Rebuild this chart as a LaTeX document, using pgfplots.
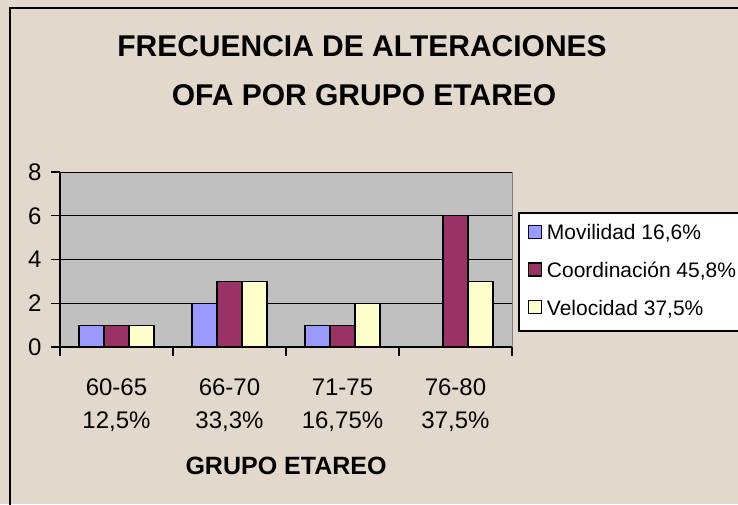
\documentclass[border=0pt]{standalone}
\usepackage{pgfplots}
\pgfplotsset{compat=1.18}
\usepackage{fontspec}
\setmainfont{Liberation Sans}
\definecolor{bgc}{HTML}{E2D8CC}
\definecolor{plotbg}{HTML}{C0C0C0}
\definecolor{cmov}{HTML}{9999FF}
\definecolor{ccoo}{HTML}{993366}
\definecolor{cvel}{HTML}{FFFFCC}
\begin{document}
\begin{tikzpicture}
\useasboundingbox (0pt,0pt) rectangle (738pt,-504pt);
\fill[bgc] (0pt,0pt) rectangle (738pt,-504pt);
\draw[line width=2pt] (10pt,-520pt) -- (10pt,-8pt) -- (760pt,-8pt);
\node[anchor=base, inner sep=0pt, font=\bfseries\fontsize{30}{36}\selectfont] at (362pt,-56pt) {FRECUENCIA DE ALTERACIONES};
\node[anchor=base, inner sep=0pt, font=\bfseries\fontsize{30}{36}\selectfont] at (364pt,-105pt) {OFA POR GRUPO ETAREO};
\begin{axis}[
  at={(60pt,-347pt)}, anchor=south west,
  scale only axis, width=452pt, height=175pt,
  xmin=-0.5, xmax=3.5, ymin=0, ymax=8,
  ybar, bar width=25pt,
  axis x line*=bottom, axis y line*=left,
  axis line style={black, line width=1.5pt},
  axis background/.style={fill=plotbg, draw=gray, line width=1pt},
  ytick={0,2,4,6,8},
  ymajorgrids, grid style={black, line width=1pt},
  major tick length=9pt, tick align=outside,
  tick style={black, line width=1.2pt},
  xtick={-0.5,0.5,1.5,2.5,3.5}, xticklabels={},
  extra x ticks={0,1,2,3},
  extra x tick labels={{60-65\\12,5\%},{66-70\\33,3\%},{71-75\\16,75\%},{76-80\\37,5\%}},
  extra x tick style={major tick length=0pt, tick style={draw=none}},
  xticklabel style={align=center, font=\fontsize{24}{33}\selectfont, yshift=-28pt},
  yticklabel style={font=\fontsize{24}{28}\selectfont, xshift=-6pt},
  /pgf/number format/assume math mode=true,
  xlabel={GRUPO ETAREO},
  xlabel style={at={(axis description cs:0.5,-0.7257)}, anchor=base, inner sep=0pt, font=\bfseries\fontsize{25}{29}\selectfont},
  legend style={at={(1.0133,0.7714)}, anchor=north west, draw=black, line width=1.5pt, fill=white,
    inner xsep=9pt, inner ysep=12pt, row sep=18.5pt,
    font=\fontsize{21}{25}\selectfont,
    nodes={inner sep=0pt, text height=15pt, text depth=4pt, anchor=base west}},
  legend cell align=left,
  legend image code/.code={\draw[#1, line width=1.2pt] (0pt,1.5pt) rectangle (13pt,14.5pt); \path (18pt,0pt);},
  every axis plot/.append style={draw=black, line width=1.2pt},
]
\addplot[fill=cmov, bar shift=-25pt] coordinates {(0,1) (1,2) (2,1) (3,0)};
\addplot[fill=ccoo, bar shift=0pt] coordinates {(0,1) (1,3) (2,1) (3,6)};
\addplot[fill=cvel, bar shift=25pt] coordinates {(0,1) (1,3) (2,2) (3,3)};
\legend{{Movilidad 16,6\%}, {Coordinación 45,8\%}, {Velocidad 37,5\%}}
\end{axis}
\end{tikzpicture}
\end{document}
